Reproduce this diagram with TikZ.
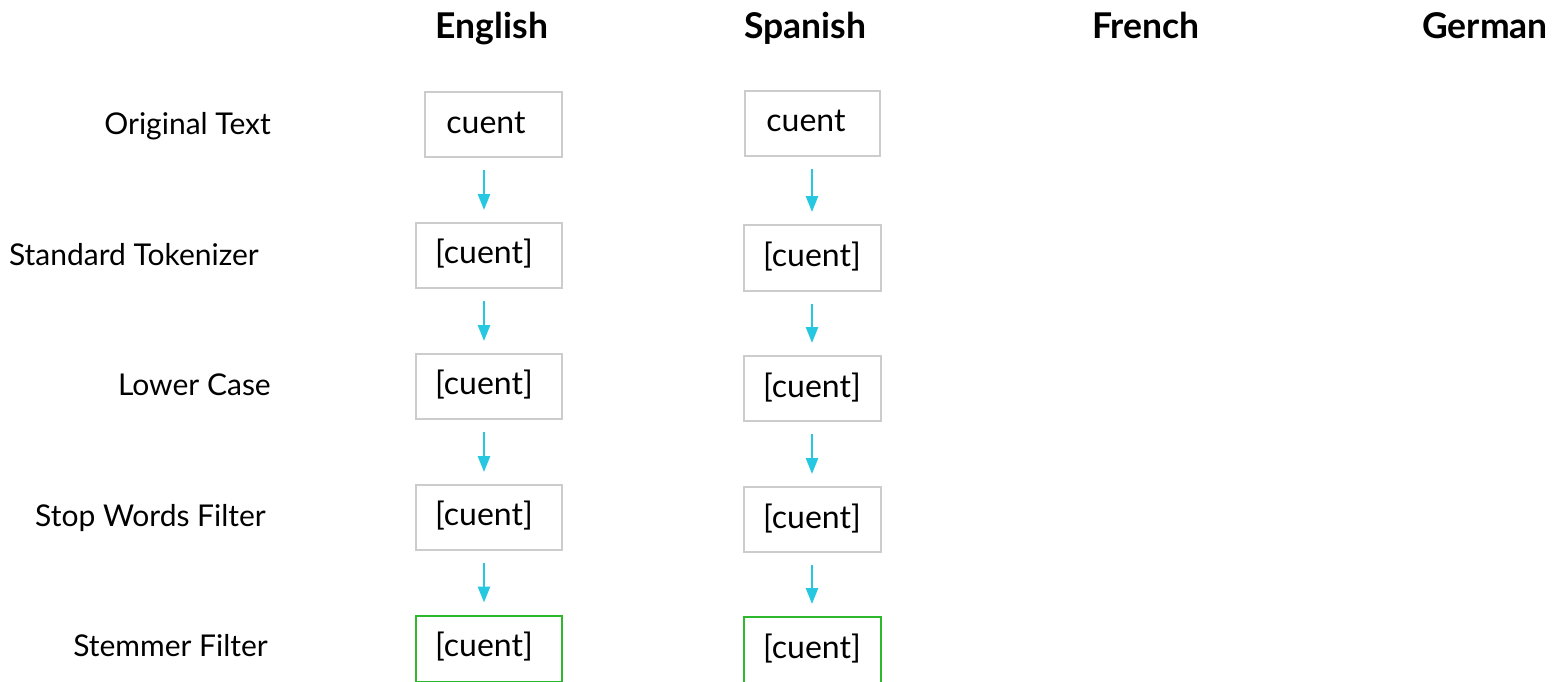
\documentclass[tikz,border=0pt]{standalone}
\usepackage{fontspec}
\setmainfont{Lato}
\usetikzlibrary{arrows.meta}
\definecolor{boxgray}{HTML}{CCCCCC}
\definecolor{okgreen}{HTML}{2DB82D}
\definecolor{arrcyan}{HTML}{25C8E0}
\tikzset{
  hdr/.style={font=\fontsize{35.5}{40}\selectfont\bfseries, inner sep=0pt, anchor=base},
  rowlbl/.style={font=\fontsize{30}{36}\selectfont, inner sep=0pt, anchor=base east},
  boxtxt/.style={font=\fontsize{32}{38}\selectfont, inner sep=0pt, anchor=base},
  cbox/.style={draw=boxgray, line width=2pt, inner sep=0pt},
  gbox/.style={draw=okgreen, line width=2pt, inner sep=0pt},
  arr/.style={draw=arrcyan, line width=2.6pt, -{Triangle[width=12pt,length=16pt]}, shorten <=12pt, shorten >=12pt},
}
\begin{document}
\begin{tikzpicture}[x=1pt,y=-1pt]
\useasboundingbox (0,0) rectangle (1552,681);
% headers
\node[hdr] (hEn) at (492,38) {English};
\node[hdr] (hEs) at (805,38) {Spanish};
\node[hdr] (hFr) at (1146,38) {French};
\node[hdr] (hDe) at (1485,38) {German};
% row labels
\node[rowlbl] (lOrig) at (271,134) {Original Text};
\node[rowlbl] (lTok) at (259,265) {Standard Tokenizer};
\node[rowlbl] (lLow) at (271,395) {Lower Case};
\node[rowlbl] (lStop) at (266,526) {Stop Words Filter};
\node[rowlbl] (lStem) at (268,656) {Stemmer Filter};
% English boxes
\node[cbox] (e1) at (493.5,124.5) [minimum width=137pt, minimum height=65pt] {};
\node[cbox] (e2) at (489,255.5) [minimum width=146pt, minimum height=65pt] {};
\node[cbox] (e3) at (489,386.5) [minimum width=146pt, minimum height=65pt] {};
\node[cbox] (e4) at (489,517.5) [minimum width=146pt, minimum height=65pt] {};
\node[gbox] (e5) at (489,648.5) [minimum width=146pt, minimum height=66pt] {};
\node[boxtxt] (te1) at (486,133) {cuent};
\node[boxtxt] (te2) at (484,263) {[cuent]};
\node[boxtxt] (te3) at (484,394) {[cuent]};
\node[boxtxt] (te4) at (484,525) {[cuent]};
\node[boxtxt] (te5) at (484,656) {[cuent]};
% Spanish boxes
\node[cbox] (s1) at (812.5,123.5) [minimum width=135pt, minimum height=65pt] {};
\node[cbox] (s2) at (812.5,258) [minimum width=137pt, minimum height=66pt] {};
\node[cbox] (s3) at (812.5,388.5) [minimum width=137pt, minimum height=65pt] {};
\node[cbox] (s4) at (812.5,519.5) [minimum width=137pt, minimum height=65pt] {};
\node[gbox] (s5) at (812.5,650) [minimum width=137pt, minimum height=66pt] {};
\node[boxtxt] (ts1) at (806,131) {cuent};
\node[boxtxt] (ts2) at (812,266) {[cuent]};
\node[boxtxt] (ts3) at (812,397) {[cuent]};
\node[boxtxt] (ts4) at (812,528) {[cuent]};
\node[boxtxt] (ts5) at (812,658) {[cuent]};
% arrow axes
\coordinate (ax) at (484,0);
\coordinate (sx) at (812,0);
\draw[arr] (e1.south -| ax) -- (e2.north -| ax);
\draw[arr] (e2.south -| ax) -- (e3.north -| ax);
\draw[arr] (e3.south -| ax) -- (e4.north -| ax);
\draw[arr] (e4.south -| ax) -- (e5.north -| ax);
\draw[arr] (s1.south -| sx) -- (s2.north -| sx);
\draw[arr] (s2.south -| sx) -- (s3.north -| sx);
\draw[arr] (s3.south -| sx) -- (s4.north -| sx);
\draw[arr] (s4.south -| sx) -- (s5.north -| sx);
\end{tikzpicture}
\end{document}
